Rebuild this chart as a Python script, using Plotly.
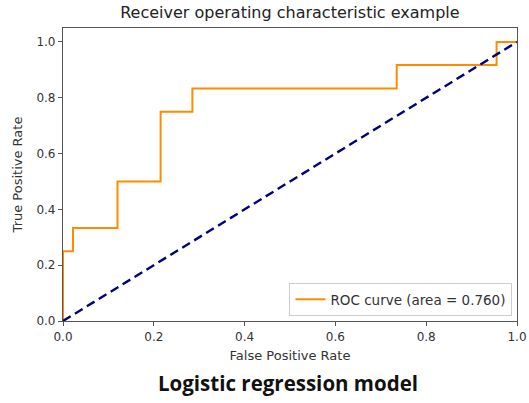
import plotly.graph_objects as go

fpr = [0.0, 0.0, 0.022, 0.022, 0.12, 0.12, 0.215, 0.215, 0.285, 0.285, 0.735, 0.735, 0.955, 0.955, 1.0]
tpr = [0.0, 0.25, 0.25, 0.333, 0.333, 0.5, 0.5, 0.75, 0.75, 0.833, 0.833, 0.917, 0.917, 1.0, 1.0]
diag_x = [0, 1]
diag_y = [0, 1]
roc_auc = 0.760
tick_vals = [0.0, 0.2, 0.4, 0.6, 0.8, 1.0]
tick_text = ["0.0", "0.2", "0.4", "0.6", "0.8", "1.0"]

fig = go.Figure()
fig.add_trace(go.Scatter(x=fpr, y=tpr, mode="lines", line=dict(color="darkorange", width=2),
                         name="ROC curve (area = %0.3f)" % roc_auc))
fig.add_trace(go.Scatter(x=diag_x, y=diag_y, mode="lines",
                         line=dict(color="navy", width=2.4, dash="9px,5px"),
                         showlegend=False))

axis_common = dict(showgrid=False, zeroline=False, showline=True, linecolor="#555", linewidth=1.2,
                   mirror=True, ticks="outside", ticklen=4, tickcolor="#555", automargin=False,
                   tickvals=tick_vals, ticktext=tick_text,
                   tickfont=dict(family="DejaVu Sans", size=12, color="#333"))

fig.update_layout(
    width=529, height=403,
    margin=dict(l=63, r=12, t=28, b=82, autoexpand=False),
    paper_bgcolor="white", plot_bgcolor="white",
    title=dict(text="Receiver operating characteristic example", x=0.548, xanchor="center",
               y=0.968, yanchor="middle", font=dict(family="DejaVu Sans", size=16, color="#222")),
    xaxis=dict(range=[0, 1], title=dict(text="False Positive Rate", standoff=8,
               font=dict(family="DejaVu Sans", size=13, color="#333")), **axis_common),
    yaxis=dict(range=[0, 1.05], title=dict(text="True Positive Rate", standoff=10,
               font=dict(family="DejaVu Sans", size=13, color="#333")), **axis_common),
    legend=dict(x=0.99, y=0.017, xanchor="right", yanchor="bottom", bgcolor="white",
                bordercolor="#ccc", borderwidth=1, itemwidth=30,
                font=dict(family="DejaVu Sans", size=13.5, color="#333")),
    annotations=[dict(text="<b>Logistic regression model</b>", xref="paper", yref="paper",
                      x=0.496, y=-0.212, xanchor="center", yanchor="middle", showarrow=False,
                      font=dict(family="Open Sans", size=20.5, color="#111"))],
)

fig.write_html("out.html", config={"displayModeBar": False},
               post_script="document.body.style.margin='0';")
